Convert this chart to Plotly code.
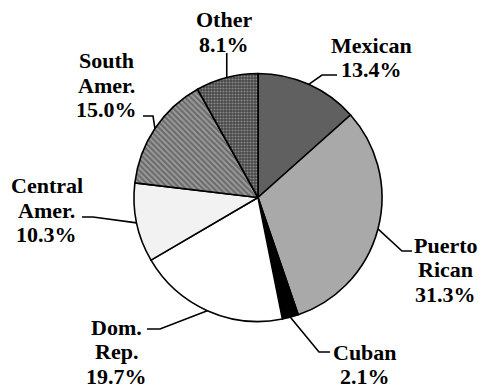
import math
import plotly.graph_objects as go

# Hispanic origin groups, share of total (%)
categories = ["Mexican", "Puerto Rican", "Cuban", "Dom. Rep.",
              "Central Amer.", "South Amer.", "Other"]
shares = [13.4, 31.3, 2.1, 19.7, 10.3, 15.0, 8.1]
label_lines = [["Mexican"], ["Puerto", "Rican"], ["Cuban"], ["Dom.", "Rep."],
               ["Central", "Amer."], ["South", "Amer."], ["Other"]]

# slice fills
fill_colors = ["#606060", "#a9a9a9", "#000000", "#ffffff",
               "#f2f2f2", "#6b6b6b", "#484848"]
pattern_shapes = ["", "", "", "", "", "\\", "."]
pattern_fg = ["#606060", "#a9a9a9", "#000000", "#ffffff",
              "#f2f2f2", "#d2d2d2", "#c8c8c8"]
pattern_bg = fill_colors[:]

W, H = 481, 388
CX, CY, R = 258, 197.5, 124          # pie centre / radius in pixels
FONT = dict(family="Times New Roman, Liberation Serif, DejaVu Serif, serif",
            size=22, color="#000000", weight="bold")
LINE_STEP = 24.5

# label placement: centre x, first line centre y, leader elbow, leader end (pixels)
label_layout = {
    "Mexican":       dict(x=371,   y=45,   elbow=(322, 75),  end=(337, 75)),
    "Puerto Rican":  dict(x=445.5, y=245,  elbow=(402, 251), end=(412, 251)),
    "Cuban":         dict(x=365,   y=352,  elbow=(319, 352), end=(330, 352)),
    "Dom. Rep.":     dict(x=116,   y=327,  elbow=(160, 329), end=(147, 329)),
    "Central Amer.": dict(x=46.5,  y=185.5, elbow=(93, 217), end=(82, 217)),
    "South Amer.":   dict(x=106.5, y=60.5, elbow=(153, 116), end=(143, 116)),
    "Other":         dict(x=224,   y=19.5, elbow=None,       end=(None, 53)),
}


def px(x):
    return x / W


def py(y):
    return 1 - y / H


fig = go.Figure(go.Pie(
    labels=categories,
    values=shares,
    sort=False,
    direction="clockwise",
    rotation=0,
    textinfo="none",
    hoverinfo="none",
    showlegend=False,
    marker=dict(
        colors=fill_colors,
        line=dict(color="#000000", width=1.6),
        pattern=dict(shape=pattern_shapes, fgcolor=pattern_fg, bgcolor=pattern_bg,
                     size=[8, 8, 8, 8, 8, 4, 3], solidity=[0.3] * 5 + [0.45, 0.4],
                     fillmode="overlay"),
    ),
    domain=dict(x=[px(CX - R), px(CX + R)], y=[py(CY + R), py(CY - R)]),
))

annotations = []
shapes = []
total = sum(shares)
cum = 0.0
for name, val, lines in zip(categories, shares, label_lines):
    mid = (cum + val / 2) / total * 2 * math.pi
    cum += val
    sx = CX + R * math.sin(mid)
    sy = CY - R * math.cos(mid)
    lay = label_layout[name]

    # text lines, with the percentage as the last line
    text_rows = lines + [f"{val:.1f}%"]
    for i, row in enumerate(text_rows):
        annotations.append(dict(
            x=px(lay["x"]), y=py(lay["y"] + i * LINE_STEP),
            xref="paper", yref="paper", text=row,
            showarrow=False, xanchor="center", yanchor="middle", font=FONT,
        ))

    # leader line from slice edge
    pts = [(sx, sy)]
    if lay["elbow"] is not None:
        pts.append(lay["elbow"])
    ex, ey = lay["end"]
    pts.append((sx if ex is None else ex, ey))
    path = "M " + " L ".join(f"{px(x):.5f},{py(y):.5f}" for x, y in pts)
    shapes.append(dict(type="path", path=path, xref="paper", yref="paper",
                       line=dict(color="#000000", width=1.6)))

fig.update_layout(
    width=W, height=H,
    margin=dict(l=0, r=0, t=0, b=0),
    paper_bgcolor="#ffffff",
    plot_bgcolor="#ffffff",
    font=dict(family="Times New Roman, Liberation Serif, DejaVu Serif, serif"),
    annotations=annotations,
    shapes=shapes,
)

fig.write_html("out.html")
